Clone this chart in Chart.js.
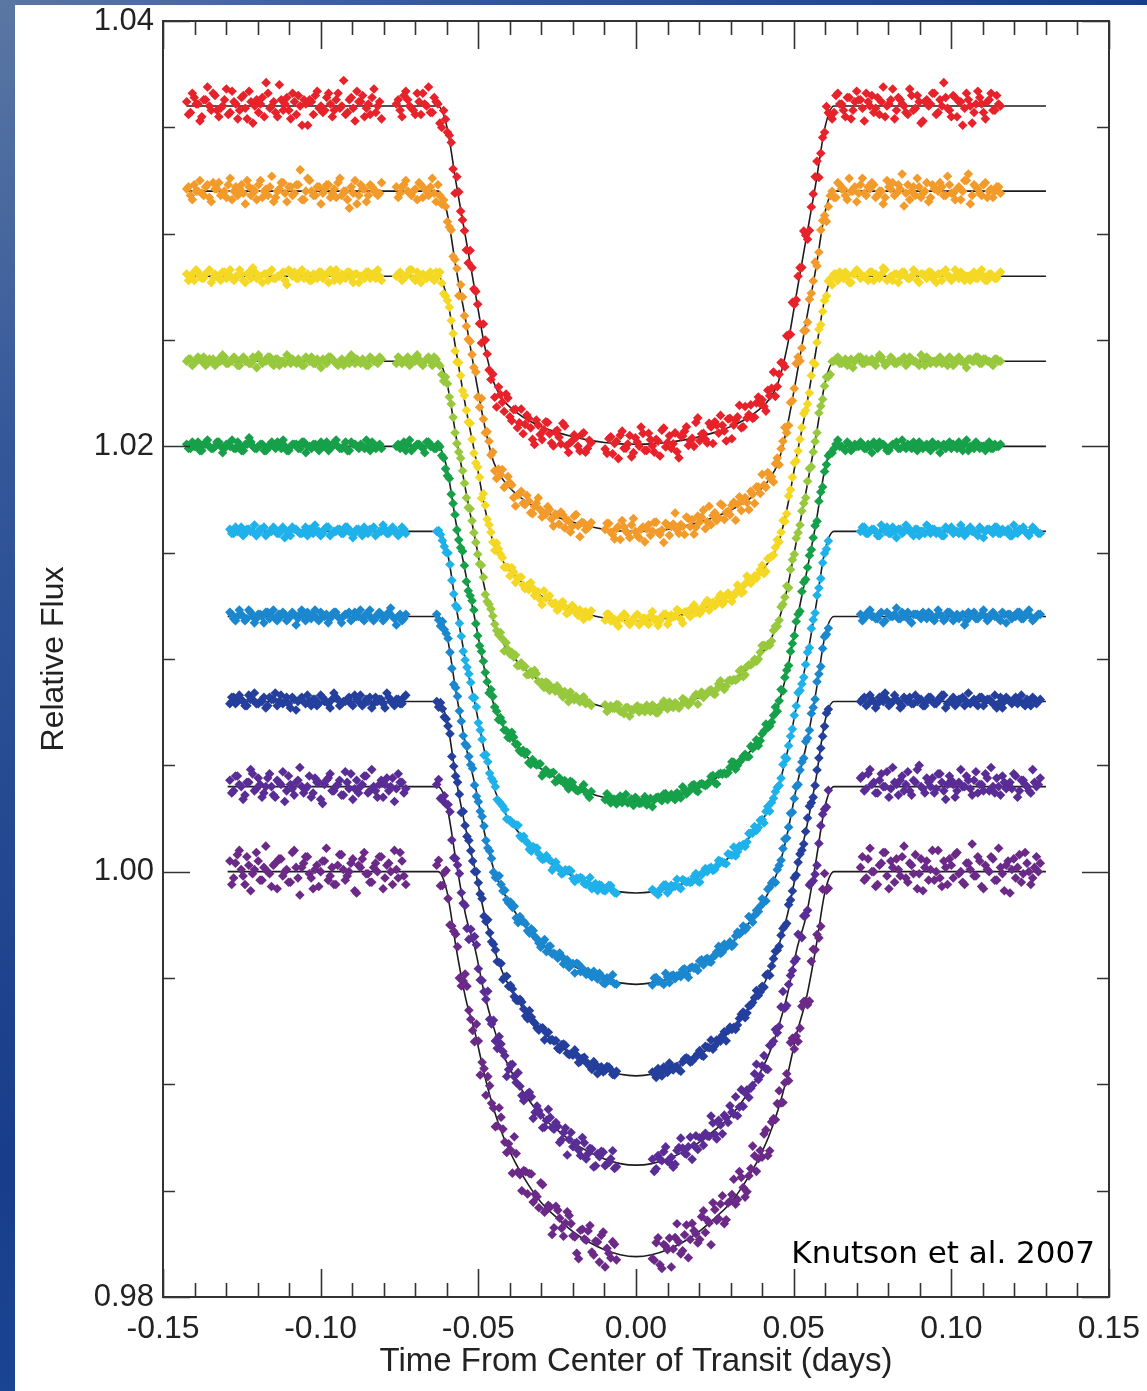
<!DOCTYPE html>
<html>
<head>
<meta charset="utf-8">
<title>HD 209458b transit light curves</title>
<script src="https://cdn.jsdelivr.net/npm/chart.js@4.4.1/dist/chart.umd.min.js"></script>
<style>
  html, body { margin: 0; padding: 0; }
  body {
    width: 1147px; height: 1391px; overflow: hidden; position: relative;
    background: radial-gradient(circle at 0 0, #5a77a3 0px, #34579a 450px, #183d8a 1150px, #1a4592 1400px);
  }
  #frame { position: absolute; left: 15px; top: 5px; width: 1132px; height: 1386px; background: #fff; }
  canvas { display: block; }
</style>
</head>
<body>
<div id="frame"><canvas id="chart" width="1132" height="1386"></canvas></div>
<script>
// ---- Exposure times, in units of 1e-4 day from the centre of transit ----
// (two interleaved exposure sequences per visit)
const timesLongArm = [
  -1425,-1413,-1401,-1389,-1377,-1365,-1353,-1341,-1329,-1317,-1305,-1293,-1281,-1269,-1257,-1245,-1233,-1221,-1209,-1197,
  -1185,-1173,-1161,-1149,-1137,-1125,-1113,-1101,-1089,-1077,-1065,-1053,-1041,-1029,-1017,-1005,-993,-981,-969,-957,
  -945,-933,-921,-909,-897,-885,-873,-861,-849,-837,-825,-813,
  -760,-748,-736,-724,-712,-700,-688,-676,-664,-652,-640,-628,-616,-604,-592,-580,-568,-556,-544,-532,
  -520,-508,-496,-484,-472,-460,-448,-436,-424,-412,-400,-388,-376,-364,-352,-340,-328,-316,-304,-292,
  -280,-268,-256,-244,-232,-220,-208,-196,-184,-172,-160,-148,
  -98,-86,-74,-62,-50,-38,-26,-14,-2,10,22,34,46,58,70,82,94,106,118,130,
  142,154,166,178,190,202,214,226,238,250,262,274,286,298,310,322,334,346,358,370,
  382,394,406,418,430,442,454,466,478,490,502,514,526,538,550,562,574,586,598,610,
  622,634,646,658,670,682,694,706,718,730,742,754,766,778,790,802,814,826,838,850,
  862,874,886,898,910,922,934,946,958,970,982,994,1006,1018,1030,1042,1054,1066,1078,1090,
  1102,1114,1126,1138,1150,
  -1419,-1407,-1395,-1383,-1371,-1359,-1347,-1335,-1323,-1311,-1299,-1287,-1275,-1263,-1251,-1239,-1227,-1215,-1203,-1191,
  -1179,-1167,-1155,-1143,-1131,-1119,-1107,-1095,-1083,-1071,-1059,-1047,-1035,-1023,-1011,-999,-987,-975,-963,-951,
  -939,-927,-915,-903,-891,-879,-867,-855,-843,-831,-819,-807,
  -754,-742,-730,-718,-706,-694,-682,-670,-658,-646,-634,-622,-610,-598,-586,-574,-562,-550,-538,-526,
  -514,-502,-490,-478,-466,-454,-442,-430,-418,-406,-394,-382,-370,-358,-346,-334,-322,-310,-298,-286,
  -274,-262,-250,-238,-226,-214,-202,-190,-178,-166,-154,-142,
  -92,-80,-68,-56,-44,-32,-20,-8,4,16,28,40,52,64,76,88,100,112,124,136,
  148,160,172,184,196,208,220,232,244,256,268,280,292,304,316,328,340,352,364,376,
  388,400,412,424,436,448,460,472,484,496,508,520,532,544,556,568,580,592,604,616,
  628,640,652,664,676,688,700,712,724,736,748,760,772,784,796,808,820,832,844,856,
  868,880,892,904,916,928,940,952,964,976,988,1000,1012,1024,1036,1048,1060,1072,1084,1096,
  1108,1120,1132,1144,1156
];
const timesShortArm = [
  -1288,-1276,-1264,-1252,-1240,-1228,-1216,-1204,-1192,-1180,-1168,-1156,-1144,-1132,-1120,-1108,-1096,-1084,-1072,-1060,
  -1048,-1036,-1024,-1012,-1000,-988,-976,-964,-952,-940,-928,-916,-904,-892,-880,-868,-856,-844,-832,-820,
  -808,-796,-784,-772,-760,-748,-736,
  -632,-620,-608,-596,-584,-572,-560,-548,-536,-524,-512,-500,-488,-476,-464,-452,-440,-428,-416,-404,
  -392,-380,-368,-356,-344,-332,-320,-308,-296,-284,-272,-260,-248,-236,-224,-212,-200,-188,-176,-164,
  -152,-140,-128,-116,-104,-92,-80,-68,
  52,64,76,88,100,112,124,136,148,160,172,184,196,208,220,232,244,256,268,280,
  292,304,316,328,340,352,364,376,388,400,412,424,436,448,460,472,484,496,508,520,
  532,544,556,568,580,592,604,
  712,724,736,748,760,772,784,796,808,820,832,844,856,868,880,892,904,916,928,940,
  952,964,976,988,1000,1012,1024,1036,1048,1060,1072,1084,1096,1108,1120,1132,1144,1156,1168,1180,
  1192,1204,1216,1228,1240,1252,1264,1276,
  -1282,-1270,-1258,-1246,-1234,-1222,-1210,-1198,-1186,-1174,-1162,-1150,-1138,-1126,-1114,-1102,-1090,-1078,-1066,-1054,
  -1042,-1030,-1018,-1006,-994,-982,-970,-958,-946,-934,-922,-910,-898,-886,-874,-862,-850,-838,-826,-814,
  -802,-790,-778,-766,-754,-742,-730,
  -626,-614,-602,-590,-578,-566,-554,-542,-530,-518,-506,-494,-482,-470,-458,-446,-434,-422,-410,-398,
  -386,-374,-362,-350,-338,-326,-314,-302,-290,-278,-266,-254,-242,-230,-218,-206,-194,-182,-170,-158,
  -146,-134,-122,-110,-98,-86,-74,-62,
  58,70,82,94,106,118,130,142,154,166,178,190,202,214,226,238,250,262,274,286,
  298,310,322,334,346,358,370,382,394,406,418,430,442,454,466,478,490,502,514,526,
  538,550,562,574,586,598,610,
  718,730,742,754,766,778,790,802,814,826,838,850,862,874,886,898,910,922,934,946,
  958,970,982,994,1006,1018,1030,1042,1054,1066,1078,1090,1102,1114,1126,1138,1150,1162,1174,1186,
  1198,1210,1222,1234,1246,1258,1270,1282
];

// ---- Fitted transit model: shape of the light loss (0 = out of transit, 1 = centre) ----
const shapeTimes   = [628, 600, 570, 540, 510, 480, 450, 420, 380, 340, 300, 250, 200, 150, 100, 50, 0];
const shapeRed     = [0,.06,.23,.39,.55,.71,.82,.87,.905,.93,.948,.965,.978,.988,.995,.999,1];
const shapeOrange  = [0,.06,.23,.38,.54,.69,.80,.85,.89,.917,.938,.958,.973,.985,.994,.999,1];
const shapeYellow  = [0,.06,.22,.38,.52,.67,.78,.83,.873,.904,.928,.951,.968,.982,.992,.998,1];
const shapeLime    = [0,.06,.22,.37,.51,.65,.75,.81,.857,.892,.919,.943,.964,.979,.991,.998,1];
const shapeGreen   = [0,.06,.22,.36,.49,.63,.73,.79,.841,.879,.909,.936,.959,.976,.989,.997,1];
const shapeCyan    = [0,.05,.21,.36,.48,.61,.71,.77,.824,.866,.899,.929,.954,.974,.988,.997,1];
const shapeAzure   = [0,.05,.21,.35,.46,.59,.69,.75,.808,.853,.889,.922,.949,.971,.986,.996,1];
const shapeNavy    = [0,.05,.21,.34,.45,.57,.66,.73,.792,.841,.88,.914,.945,.968,.985,.996,1];
const shapeViolet  = [0,.05,.20,.34,.43,.55,.64,.71,.776,.828,.87,.907,.94,.965,.984,.996,1];
const shapePlum    = [0,.05,.20,.33,.42,.53,.62,.69,.76,.815,.86,.90,.935,.962,.982,.995,1];

// Out-of-transit level (offset above 1, units 1e-4) and transit depth (units 1e-4)
const baselines = [360, 320, 280, 240, 200, 160, 120, 80, 40, 0];
const depths    = [159, 160, 162, 164, 167, 170, 173, 176, 178, 181];
const colors    = ['#e7222a', '#f29b2b', '#f4d824', '#97c83d', '#17a04a', '#1fb1ea', '#1b87cf', '#243f9c', '#5a2c95', '#6b2a87'];

// ---- Measured flux minus model, units of 1e-4 (same order as the exposure times) ----
const resRed = [
  2,-3,4,1,-5,3,0,6,-2,-1,3,-4,7,1,-2,5,-6,2,0,-3,4,11,-1,2,-5,3,1,-2,6,-4,0,3,-9,2,5,-1,-3,4,1,-2,6,0,-4,3,-1,7,2,-5,1,4,-3,2,
  1,-2,5,3,-1,-4,2,6,0,-3,4,1,-6,2,3,-2,5,-1,0,-5,3,2,-3,7,1,-4,-6,2,-2,4,-5,0,-7,3,-3,1,-8,2,-4,-1,3,-6,0,-2,5,-5,-3,1,-4,2,-6,0,
  -3,2,-5,1,4,-2,0,-6,3,-1,5,-3,2,-4,1,6,-2,3,-1,-5,2,4,-3,0,7,-2,1,-4,3,5,-1,2,-6,4,0,3,-3,6,1,-2,
  4,2,-1,5,3,-4,2,0,6,-3,1,4,-2,3,-5,2,7,0,-1,3,-4,5,1,-2,4,-6,2,3,-1,6,0,-3,4,2,-5,1,8,-2,3,0,
  -4,5,-1,2,-7,3,1,6,-3,0,4,-2,5,-5,2,-1,3,-8,1,4,-3,2,6,-2,1,
  -4,6,1,-7,3,9,-2,5,-5,0,8,-3,2,-6,4,-1,7,-8,3,1,-5,6,0,-3,10,-2,4,-6,2,5,-9,1,3,-4,7,0,-2,6,-5,3,-1,12,-3,4,-7,2,5,-1,-4,8,0,-6,
  3,-5,7,0,-2,6,-4,1,9,-3,2,-6,4,-1,5,-8,3,0,-4,6,-2,1,-7,4,-3,2,-9,0,-5,3,-6,1,-4,-8,2,-3,-10,0,-6,3,-2,-7,1,-5,4,-8,-2,0,-6,3,-4,-1,
  -5,3,0,-7,6,-2,4,-4,1,8,-3,5,-1,2,-6,7,0,-3,4,-8,2,6,-1,-4,9,1,-2,5,-5,3,7,-1,4,-6,2,8,-3,0,5,-2,
  6,3,-4,1,9,-1,4,-5,2,7,-2,3,10,-4,1,5,-6,2,8,0,-3,6,1,-5,4,-2,7,3,-7,2,5,-1,-4,9,0,3,-6,4,1,-3,
  8,-2,5,-8,2,0,6,-4,3,11,-1,-5,4,2,-9,6,0,-3,7,1,-6,3,-2,5,0
];
const resOrange = [
  1,-2,3,0,-1,2,-3,4,1,-2,0,3,-4,2,1,-1,5,-2,0,3,-3,1,2,-5,0,4,-1,2,-2,3,10,-4,6,0,-2,2,-1,3,-3,1,4,-2,0,-8,-1,-6,3,1,-2,2,0,-1,
  2,-1,3,0,-2,1,4,-3,0,2,-1,3,-2,1,0,-3,2,4,-1,-2,1,3,-4,0,2,-2,-3,1,4,-1,2,-3,0,3,-2,1,-4,2,0,-1,3,-2,1,-3,2,0,-5,3,-1,1,-2,0,
  0,3,-2,1,-4,2,-1,3,0,-3,2,1,-2,4,-1,0,3,-3,2,-1,1,-4,3,2,-2,0,5,-1,-3,2,-1,4,0,-2,3,1,-3,2,-5,1,
  3,-2,0,4,-1,2,-3,1,-2,3,0,5,-1,-3,2,1,-2,4,0,-1,2,-3,3,1,-4,0,2,-1,6,-2,1,3,-2,0,-3,2,4,-1,1,-7,
  3,0,-2,2,-1,4,-3,1,0,2,-2,3,-1,1,-4,5,8,-2,2,-1,3,-3,1,0,2,
  2,-4,0,5,-2,3,-5,1,4,-1,-3,6,0,-2,3,-6,2,1,-4,5,0,-2,7,-3,1,4,-5,2,-1,3,-4,0,5,-2,2,-6,1,3,-1,-3,6,0,-4,2,5,-2,1,-5,3,0,-2,4,
  -3,2,5,-1,0,-4,3,1,-2,6,-5,0,2,-3,4,1,-6,3,-1,2,0,-4,5,-2,1,3,-5,0,-3,4,2,-6,1,-2,3,-4,0,5,-3,-1,2,-5,1,3,-4,0,-2,4,-6,1,-1,2,
  3,-1,-4,2,5,0,-3,6,-2,1,-5,3,0,4,-2,-6,2,1,7,-3,0,4,-1,-5,3,2,-4,6,1,-2,5,-3,0,2,-6,4,1,-1,3,-4,
  2,6,-2,0,-5,3,1,4,-3,-1,7,-2,2,-4,0,5,-1,3,-6,2,-3,4,1,-2,6,0,-5,3,-1,2,4,-3,0,-6,5,1,-2,3,8,-1,
  -4,2,6,-3,0,-5,3,1,4,-2,7,-1,-4,2,0,5,-6,3,1,-2,4,0,-3,2,-1
];
const resYellow = [
  1,0,-2,2,-1,1,3,-1,0,-2,2,1,-1,0,3,-2,1,-1,2,0,-3,1,2,-1,0,1,-2,3,0,-1,2,-1,1,-2,0,2,-1,1,3,-2,0,1,-1,2,-3,1,0,-1,2,1,-1,0,
  0,2,-1,1,3,-2,0,1,-1,2,-2,0,1,-1,2,0,-3,1,2,-1,0,-2,1,3,-1,0,-2,2,1,-1,-3,1,0,2,-2,-1,1,0,-2,3,1,-1,0,-2,2,-3,-1,1,-2,0,1,-1,
  -1,2,0,-2,1,3,-1,0,2,-2,1,-1,2,0,-3,1,2,-1,0,3,-2,1,0,2,-1,-2,1,3,0,-1,2,-2,1,0,-1,3,-2,1,2,0,
  -1,1,-3,2,0,1,-1,2,-2,0,3,-1,1,0,-2,2,1,-1,0,4,-2,1,2,-1,0,-3,1,2,0,-1,2,-2,0,1,3,-1,-2,1,0,2,
  -1,0,2,-3,1,-1,2,0,1,-2,3,0,-1,1,2,-2,0,1,-1,2,0,-2,1,-1,1,
  -2,1,3,0,-1,2,-3,1,0,2,-1,3,-2,0,1,-3,2,4,-1,0,1,-2,3,-1,0,2,-4,1,2,-1,3,0,-2,1,-1,2,0,-3,1,3,-2,0,2,-1,1,-3,0,2,-1,1,3,-2,
  1,-2,0,3,-1,2,-3,0,1,-1,2,4,-2,0,1,-3,2,-1,0,3,-2,1,-4,2,0,-1,3,1,-2,0,2,-3,1,-1,0,3,-2,1,-4,0,2,-1,-3,1,0,-2,2,-1,1,-3,0,2,
  2,-1,0,-3,1,2,-2,0,3,-1,1,-2,4,0,-1,2,-3,1,0,2,-4,1,-2,3,0,-1,2,-2,1,0,3,-1,2,-3,0,1,-2,4,-1,1,
  0,2,-3,1,-1,3,0,-2,2,1,-1,0,3,-2,1,-4,2,0,-1,3,1,-2,0,2,-3,1,3,-1,0,-2,2,1,-1,4,-2,0,1,-3,2,0,
  -1,3,-2,1,0,2,-1,-3,1,2,0,-2,3,-1,1,0,-2,2,-1,3,-2,1,0,-1,2
];
const resLime = [
  0,1,-1,2,0,-2,1,1,-1,0,2,-1,0,1,-2,2,0,-1,1,3,-1,0,2,-2,1,0,-1,2,1,-1,0,-2,1,2,-1,0,1,-1,2,0,-2,1,0,-1,2,1,-1,0,-2,1,0,2,
  -1,1,0,2,-1,0,1,-2,1,0,2,-1,-2,1,0,1,-1,2,0,-2,1,0,-1,2,-2,1,0,-1,1,2,-1,0,-2,1,1,-1,0,2,-1,-2,1,0,-1,1,-2,0,2,-1,0,1,-1,0,
  1,-1,0,2,-1,-2,1,0,1,-1,0,2,-1,1,-2,0,1,2,-1,0,-1,1,-2,0,2,1,-1,0,1,-2,2,0,-1,1,0,-1,2,-2,1,0,
  -1,1,2,0,-2,1,-1,0,2,1,-1,0,1,-2,2,0,-1,1,0,-1,2,1,-1,0,-2,1,0,2,-1,1,0,-1,1,2,-2,0,1,-1,0,2,
  -1,1,0,-2,1,2,-1,0,1,-1,0,2,-2,1,0,-1,1,0,2,-1,1,0,-1,1,0,
  1,-2,0,1,2,-1,0,-2,1,3,-1,0,2,-2,1,0,-1,2,-3,1,0,2,-1,1,-2,0,3,-1,0,1,-2,2,0,-1,1,-3,0,2,1,-1,0,-2,1,3,-1,0,1,-2,2,0,-1,1,
  2,-1,0,-2,1,3,-1,0,2,-2,1,0,-3,1,2,-1,0,1,-2,2,0,-1,3,-2,0,1,-1,2,-3,0,1,2,-1,0,-2,1,3,-1,0,1,-2,0,2,-1,1,-3,0,1,-1,2,0,-1,
  -2,1,0,2,-1,1,-3,0,2,1,-1,0,2,-2,1,3,-1,0,1,-2,2,0,-1,1,-3,2,0,1,-1,0,3,-2,1,0,-1,2,-2,1,0,1,
  -1,3,0,-2,1,-1,2,0,-3,1,2,-1,0,1,-2,0,3,-1,1,-2,0,2,-1,1,0,-3,1,2,-1,0,1,-2,3,0,-1,2,-1,0,1,-2,
  2,0,-1,3,-2,1,0,-1,2,0,-2,1,-1,2,0,-3,1,0,2,-1,1,0,-2,1,0
];
const resGreen = [
  1,-1,0,2,-2,1,0,-1,2,0,-1,1,3,-1,0,-2,1,2,-1,0,1,-2,0,1,2,-1,0,-2,1,1,-1,2,0,-1,1,-2,0,2,-1,1,0,-1,2,-2,1,0,1,-1,0,2,-1,1,
  0,-1,2,1,-2,0,1,-1,2,0,-1,1,0,-2,2,1,-1,0,1,-2,2,0,-1,1,-1,2,0,-2,1,0,-1,2,1,-1,0,-2,1,0,2,-1,0,1,-2,1,0,-1,2,0,-1,1,0,-2,
  -1,1,0,-2,2,0,-1,1,2,-1,0,-2,1,0,1,-1,2,0,-1,1,-2,1,0,2,-1,1,0,-1,2,-2,1,0,-1,1,2,-1,0,1,-2,0,
  2,-1,1,0,-1,2,0,-2,1,1,-1,0,2,-1,1,0,-2,1,0,2,-1,1,0,-1,2,-2,1,0,1,-1,0,2,-1,1,0,-2,1,2,-1,0,
  1,-1,0,2,-1,1,-2,0,1,0,-1,2,1,-1,0,1,-2,0,2,-1,0,1,-1,1,0,
  -1,2,0,-2,1,3,-1,0,2,-3,1,0,-1,2,-2,1,4,0,-1,1,-2,0,2,-1,1,3,-2,0,1,-1,2,-3,0,1,-1,2,0,-2,1,3,-1,0,-2,2,1,-1,0,3,-2,1,0,-1,
  1,0,-2,3,-1,1,0,-3,2,0,-1,2,1,-2,0,1,-1,3,-2,0,2,-1,1,0,-3,2,0,1,-1,-2,3,0,-1,1,2,-2,0,1,-3,1,0,2,-1,0,1,-2,2,-1,0,3,-1,1,
  2,-2,0,1,-1,3,0,-2,1,-1,2,0,-3,1,0,2,-1,1,-2,0,3,-1,0,2,-2,1,-1,0,2,-3,1,0,-1,3,-2,0,1,-1,2,0,
  -2,1,3,-1,0,-2,2,1,-1,0,1,-3,2,0,-1,1,2,-2,0,1,-1,3,0,-2,1,-1,0,2,-1,1,-3,0,2,1,-2,0,1,-1,3,-1,
  0,2,-2,1,0,-1,2,0,-3,1,1,-1,0,2,-2,3,0,-1,1,0,-2,2,-1,0,1
];
const resCyan = [
  1,-1,0,2,-1,1,0,-2,1,2,-1,0,1,-1,2,0,-2,1,0,-1,2,1,-1,0,-2,1,2,-1,0,1,-1,2,0,-1,1,-2,0,1,2,-1,0,1,-1,2,0,-1,1,
  0,1,-1,2,0,-1,1,-2,0,1,2,-1,0,1,-1,2,-2,0,1,-1,0,2,-1,1,0,-2,1,0,-1,2,1,-1,0,-2,1,2,-1,0,1,-1,0,-2,1,1,-1,0,2,-1,
  1,-1,0,2,-2,1,0,-1,2,0,-1,1,-2,0,2,1,-1,0,1,-1,2,0,-2,1,0,-1,1,2,-1,0,1,-2,0,1,-1,2,0,-1,1,0,-2,1,2,-1,0,1,-1,
  0,2,-1,1,0,-2,1,2,-1,0,1,-1,3,0,-2,1,0,-1,2,1,-1,0,-2,1,2,0,-1,1,-1,2,0,-2,1,0,1,-1,2,-1,0,1,-2,0,1,2,-1,0,1,-1,
  -1,2,0,-2,1,0,3,-1,1,-2,0,2,-1,1,-3,0,2,1,-1,0,-2,1,3,0,-1,2,-2,0,1,-1,2,0,-3,1,0,2,-1,1,-2,0,3,-1,1,0,-2,2,-1,
  1,0,-2,2,-1,3,0,-1,1,-2,2,0,-3,1,0,2,-1,1,-2,0,1,3,-1,0,-2,1,2,-1,0,1,-3,2,0,-1,1,2,-2,0,1,-1,3,0,-2,1,-1,2,0,-1,
  0,-2,1,2,-1,0,3,-2,1,0,-1,2,-3,1,0,1,-1,2,0,-2,1,3,-1,0,-2,2,0,-1,1,-3,2,0,1,-1,2,-2,0,1,3,-1,0,-2,1,2,-1,0,1,
  2,-1,0,1,-2,3,0,-1,2,-3,1,0,2,-1,1,-2,0,3,-1,1,0,-2,2,1,-1,0,3,-2,1,0,-1,2,-3,1,0,2,-1,1,0,-2,3,-1,1,0,-2,2,0,-1
];
const resAzure = [
  2,-1,0,1,-2,3,0,-1,1,-3,2,0,-1,1,2,-2,0,1,-1,3,-2,0,1,-1,2,0,-3,1,2,-1,0,1,-2,2,0,-1,1,3,-2,0,1,-1,2,0,-4,1,-1,
  1,-2,0,2,-1,1,0,-2,2,1,-1,0,2,-1,1,-2,0,1,2,-1,0,-2,1,1,-1,2,0,-1,1,-2,2,0,-1,1,0,-2,1,2,-1,0,1,-1,0,2,-2,1,0,-1,
  -1,2,0,-2,1,1,-1,0,2,-1,1,0,-2,2,1,-1,0,1,-1,2,0,-2,1,0,2,-1,1,0,-1,2,-2,1,0,1,-1,2,0,-2,1,1,-1,0,2,-1,0,1,-1,
  1,-1,2,0,-1,1,-3,2,0,1,-1,2,0,-2,1,1,-1,0,2,-1,0,1,-2,2,1,0,-1,1,-2,0,2,-1,1,0,-1,2,0,-2,1,1,-1,0,2,-1,1,0,-1,1,
  1,-2,3,0,-1,2,-3,1,0,2,-1,3,-2,0,1,-1,2,-4,1,0,2,-1,3,-2,0,1,-1,2,0,-3,1,2,-1,0,3,-2,1,-1,0,2,-2,1,4,-1,0,-2,1,
  -1,2,0,1,-3,2,0,-1,1,3,-2,0,2,-1,1,-2,3,0,-1,1,2,-3,0,1,-1,2,0,-2,3,1,-1,0,2,-2,1,0,-3,2,1,-1,0,2,-1,1,-2,0,3,-1,
  2,0,-1,3,-2,1,0,-1,2,-3,1,0,2,-1,1,-2,0,3,-1,0,1,-2,2,0,-1,3,-2,1,0,-1,2,1,-3,0,1,-1,2,0,-2,1,3,-1,0,2,-2,1,0,
  -2,1,3,0,-1,2,-2,1,0,4,-1,0,2,-3,1,0,2,-1,1,-2,3,0,-1,2,-2,1,0,-4,2,1,-1,0,3,-2,1,0,-1,2,-3,1,0,2,-1,1,3,-2,0,1
];
const resNavy = [
  -1,2,0,1,-2,3,1,-1,0,2,-2,1,4,0,-1,2,-3,1,0,2,-1,0,1,-2,3,0,-1,1,2,-2,0,1,-1,3,0,-2,1,2,-1,0,1,-3,2,0,1,-1,2,
  0,2,-1,1,-2,0,1,2,-1,0,-2,1,2,-1,0,1,-2,2,0,-1,1,-1,2,0,-2,1,0,-1,2,1,-1,0,-2,1,2,-1,0,1,-1,2,0,-2,1,0,-1,2,1,-1,
  1,-2,0,2,-1,1,0,-2,1,2,-1,0,1,-1,2,0,-2,1,-1,2,1,0,-2,1,2,-1,0,1,-1,0,2,-2,1,0,1,-1,2,0,-1,1,-2,2,0,-1,1,0,2,
  0,2,-1,1,-3,2,0,1,-1,3,0,-2,1,2,-1,0,1,-2,2,0,-1,1,3,-1,0,-2,1,2,0,-1,1,-2,2,0,1,-1,-3,2,0,1,-1,2,0,-1,1,-2,1,0,
  2,-1,3,0,-2,1,4,-1,0,-3,2,1,-2,3,0,-1,2,-4,1,0,3,-2,1,-1,2,0,-3,4,1,-1,0,2,-2,1,3,-1,0,-3,2,1,-1,4,0,-2,1,-1,3,
  -2,1,0,3,-1,2,-3,0,1,-1,2,0,-2,3,-1,1,0,-3,2,1,-1,0,2,-2,3,0,-1,1,-3,2,0,1,-2,2,-1,0,3,-2,1,0,-1,2,-3,1,0,2,-1,1,
  0,2,-2,1,3,-1,0,-3,2,1,-1,0,2,-2,1,3,-1,0,1,-3,2,0,-1,2,-2,1,0,3,-1,-2,1,0,2,-1,1,-3,0,2,1,-1,0,3,-2,1,0,-1,2,
  1,-2,3,0,-1,2,4,-2,0,1,-3,2,0,-1,3,1,-2,0,2,-1,1,3,-3,0,2,-1,1,-2,4,0,-1,2,-2,1,0,3,-1,-3,2,0,1,-1,3,-2,0,2,-1,1
];
const resViolet = [
  3,-2,5,0,-4,2,6,-1,1,-3,4,0,-5,2,7,-2,1,-4,3,0,-1,5,-3,2,-6,1,4,-2,0,3,-4,2,6,-1,-3,1,5,-2,0,-5,3,1,-2,4,-1,2,-3,
  1,-3,2,4,-2,0,3,-1,-4,2,5,-2,1,0,-3,3,-5,2,1,-2,4,-1,0,-4,2,3,-2,1,-5,0,3,-1,2,-3,4,0,-2,1,-4,3,-1,2,-5,0,3,-2,1,-3,
  2,-3,1,4,-1,0,-4,3,2,-2,5,0,-3,1,2,-1,4,-5,0,3,-2,1,6,-1,-3,2,0,4,-2,1,-4,3,0,-1,5,-2,2,0,-3,1,4,-1,2,-4,0,3,-2,
  4,-2,6,1,-3,3,0,7,-1,2,-4,5,1,-2,3,8,0,-3,2,4,-1,6,-2,1,3,-5,2,0,5,-1,3,-3,1,6,-2,0,4,-4,2,1,-1,5,-2,3,0,-3,2,1,
  -3,5,1,-6,2,8,-2,4,-5,0,6,-4,3,1,-7,5,-1,2,9,-3,0,-5,4,2,-8,3,6,-2,1,-4,7,-1,-6,3,0,5,-3,8,-2,1,-5,4,0,-7,6,2,-1,
  4,-2,0,6,-5,2,-1,3,-6,1,5,-3,0,7,-2,-4,3,1,-7,2,0,5,-3,-1,4,-6,2,0,-4,6,-1,3,-5,1,-8,4,0,-2,5,-4,2,-6,1,3,-3,-1,5,-2,
  -4,3,0,6,-2,-5,2,7,-1,1,-6,4,2,-3,0,8,-2,3,-5,1,5,-1,-4,6,2,-3,0,7,-2,4,-6,1,3,-1,9,-4,2,0,5,-3,1,6,-2,-5,3,0,4,
  5,-1,8,2,-3,6,0,-5,9,1,3,-2,7,-4,2,10,-1,4,0,-3,6,2,-6,5,1,-2,8,0,3,-4,7,1,-2,4,9,-3,0,5,-1,2,6,-5,3,1,-2,8,0,4
];
const resPlum = [
  5,-3,8,1,-6,3,-1,9,-4,2,0,-7,4,6,-2,1,-5,10,-3,2,7,-1,-8,3,0,5,-4,2,-6,8,1,-2,4,-9,3,6,-1,-5,2,0,7,-3,4,-6,1,9,-2,
  3,-4,6,0,-2,5,-6,2,8,-1,-5,3,1,-7,4,0,-3,6,-1,2,-8,5,-2,3,-5,7,0,-4,9,-1,2,-6,4,-3,1,6,-2,-9,3,0,5,-4,2,-7,8,1,-3,4,
  -2,5,-6,3,0,-9,4,1,-4,7,-1,2,-5,6,-3,0,8,-2,4,-7,1,3,-4,9,-1,-6,2,5,0,-3,6,-8,2,4,-2,1,-5,7,0,-3,3,-6,5,1,-4,8,-1,
  2,-4,6,0,-7,3,9,-2,5,-5,1,7,-3,4,-1,-8,6,2,-4,10,0,-3,5,-6,3,8,-1,-5,4,1,-2,7,-7,3,0,6,-4,2,-9,5,1,-3,8,-1,4,-6,2,0,
  -6,4,10,-2,7,-9,1,5,-4,12,-1,3,-8,6,0,-5,9,2,-11,4,7,-3,1,-7,5,11,-2,-6,3,8,-4,0,6,-10,2,9,-1,-5,4,7,-8,3,0,10,-3,5,-6,
  6,-2,9,-7,1,4,-5,10,0,-3,7,-9,2,5,-1,-6,8,3,-4,1,11,-2,-8,4,6,-5,0,9,-3,2,-10,5,1,-6,7,3,-2,-11,4,0,8,-5,2,6,-8,-1,5,-3,
  -3,7,-8,2,5,-1,10,-5,3,-9,6,0,-4,8,2,-11,4,-2,7,-6,1,9,-3,5,-7,0,11,-4,2,6,-8,3,-1,7,-5,2,9,-2,-6,4,0,-9,6,3,-4,10,-2,
  7,-3,11,0,-6,4,9,-8,2,6,-2,12,-5,3,8,-1,-9,5,1,-4,10,-7,2,6,-3,9,0,-6,4,13,-2,5,-8,1,7,-4,11,-1,3,-10,6,2,-5,9,0,-3,7,4
];

const shapes    = [shapeRed, shapeOrange, shapeYellow, shapeLime, shapeGreen, shapeCyan, shapeAzure, shapeNavy, shapeViolet, shapePlum];
const residuals = [resRed, resOrange, resYellow, resLime, resGreen, resCyan, resAzure, resNavy, resViolet, resPlum];
const bandTimes = [timesLongArm, timesLongArm, timesLongArm, timesLongArm, timesLongArm,
                   timesShortArm, timesShortArm, timesShortArm, timesShortArm, timesShortArm];
const modelStart = [-1425, -1425, -1425, -1425, -1425, -1295, -1295, -1295, -1295, -1295];
const modelEnd = 1300;

// ---- Axis ticks ----
const xTickValues = [-0.15, -0.10, -0.05, 0.00, 0.05, 0.10, 0.15];
const yTickValues = [0.98, 1.00, 1.02, 1.04];
const creditText = 'Knutson et al. 2007';

// Light-loss fraction at |t| from the tabulated model shape
function shapeAt(shape, t) {
  const a = Math.abs(t);
  if (a >= shapeTimes[0]) return 0;
  for (let k = 0; k < shapeTimes.length - 1; k++) {
    if (a <= shapeTimes[k] && a >= shapeTimes[k + 1]) {
      const f = (shapeTimes[k] - a) / (shapeTimes[k] - shapeTimes[k + 1]);
      return shape[k] + f * (shape[k + 1] - shape[k]);
    }
  }
  return 1;
}

const datasets = [];
shapes.forEach((shape, b) => {
  // observed points: model level plus residual
  const pts = bandTimes[b].map((t, i) => ({
    x: t / 1e4,
    y: 1 + (baselines[b] - depths[b] * shapeAt(shape, t) + residuals[b][i]) / 1e4
  }));
  datasets.push({
    label: 'band ' + (b + 1),
    data: pts,
    showLine: false,
    pointStyle: 'rectRot',
    pointRadius: 4.8,
    pointHoverRadius: 4.8,
    borderWidth: 0,
    backgroundColor: colors[b],
    order: 0
  });
  // fitted curve through the tabulated nodes
  const curve = [{ x: modelStart[b] / 1e4, y: 1 + baselines[b] / 1e4 }];
  shapeTimes.forEach((tt, k) => curve.push({ x: -tt / 1e4, y: 1 + (baselines[b] - depths[b] * shape[k]) / 1e4 }));
  for (let k = shapeTimes.length - 2; k >= 0; k--) {
    curve.push({ x: shapeTimes[k] / 1e4, y: 1 + (baselines[b] - depths[b] * shape[k]) / 1e4 });
  }
  curve.push({ x: modelEnd / 1e4, y: 1 + baselines[b] / 1e4 });
  datasets.push({
    label: 'model ' + (b + 1),
    data: curve,
    showLine: true,
    borderColor: '#1c1c1c',
    borderWidth: 1.6,
    pointRadius: 0,
    cubicInterpolationMode: 'monotone',
    fill: false,
    order: 1
  });
});

// Box frame, inward tick marks on all four sides, and the credit line
const frameTicks = {
  id: 'frameTicks',
  afterDatasetsDraw(chart) {
    const { ctx, chartArea: a, scales: { x, y } } = chart;
    ctx.save();
    ctx.strokeStyle = '#333';
    ctx.lineWidth = 1.6;
    ctx.beginPath();
    for (let i = 0; i <= 30; i++) {
      const px = Math.round(x.getPixelForValue(-0.15 + i * 0.01)) + 0.5;
      const len = (i % 5 === 0) ? 28 : 14;
      ctx.moveTo(px, a.bottom); ctx.lineTo(px, a.bottom - len);
      ctx.moveTo(px, a.top); ctx.lineTo(px, a.top + len);
    }
    for (let j = 0; j <= 12; j++) {
      const py = Math.round(y.getPixelForValue(0.98 + j * 0.005)) + 0.5;
      const len = (j % 4 === 0) ? 27 : 12;
      ctx.moveTo(a.left, py); ctx.lineTo(a.left + len, py);
      ctx.moveTo(a.right, py); ctx.lineTo(a.right - len, py);
    }
    ctx.stroke();
    ctx.lineWidth = 2;
    ctx.strokeRect(a.left, a.top, a.right - a.left, a.bottom - a.top);
    ctx.font = '31px "DejaVu Sans", sans-serif';
    ctx.fillStyle = '#000';
    ctx.textAlign = 'right';
    ctx.textBaseline = 'alphabetic';
    ctx.fillText(creditText, a.right - 14, a.bottom - 34);
    ctx.restore();
  }
};

const axisFont = '"Liberation Sans", Arial, Helvetica, sans-serif';

new Chart(document.getElementById('chart'), {
  type: 'scatter',
  data: { datasets },
  options: {
    responsive: false,
    animation: false,
    devicePixelRatio: 1,
    events: [],
    layout: { padding: { top: 16, right: 38, left: 0, bottom: 0 } },
    plugins: { legend: { display: false }, tooltip: { enabled: false } },
    scales: {
      x: {
        type: 'linear',
        min: -0.15, max: 0.15,
        afterBuildTicks: s => { s.ticks = xTickValues.map(v => ({ value: v })); },
        afterFit: s => { s.height = 94; s.paddingLeft = 0; s.paddingRight = 0; },
        grid: { display: false, drawTicks: false },
        border: { display: false },
        ticks: {
          autoSkip: false, maxRotation: 0, padding: 13,
          color: '#222',
          font: { family: axisFont, size: 32, lineHeight: 1.2 },
          callback: v => (Math.abs(v) < 1e-9 ? 0 : v).toFixed(2)
        },
        title: {
          display: true,
          text: 'Time From Center of Transit (days)',
          color: '#222',
          font: { family: axisFont, size: 33, lineHeight: 1.2 },
          padding: { top: 0, bottom: 9 }
        }
      },
      y: {
        type: 'linear',
        min: 0.98, max: 1.04,
        afterBuildTicks: s => { s.ticks = yTickValues.map(v => ({ value: v })); },
        afterFit: s => { s.width = 148; s.paddingTop = 0; s.paddingBottom = 0; },
        grid: { display: false, drawTicks: false },
        border: { display: false },
        ticks: {
          padding: 9,
          color: '#222',
          font: { family: axisFont, size: 31, lineHeight: 1.2 },
          callback: v => v.toFixed(2)
        },
        title: {
          display: true,
          text: 'Relative Flux',
          color: '#222',
          font: { family: axisFont, size: 32, lineHeight: 1.2 },
          padding: { top: 20, bottom: 0 }
        }
      }
    }
  },
  plugins: [frameTicks]
});
</script>
</body>
</html>
